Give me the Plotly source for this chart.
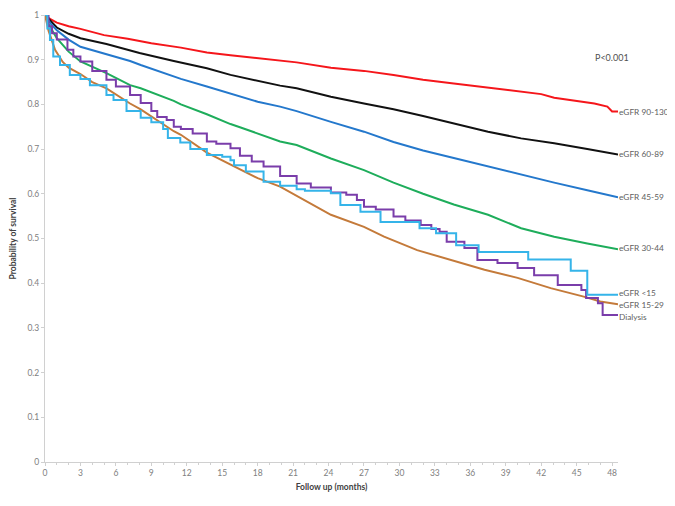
import plotly.graph_objects as go

# Kaplan-Meier survival curves
months_90_130 = [0, 0.5, 1, 2, 3, 5, 7, 9, 11.5, 13.7, 15.7, 18, 21.3, 24.2, 27, 29.5,
                 32, 34.6, 37.5, 40.3, 42, 43.1, 45, 46.5, 47.6, 48, 48.5]
surv_90_130 = [1.0, 0.99, 0.983, 0.975, 0.969, 0.955, 0.947, 0.937, 0.927, 0.916, 0.910,
               0.903, 0.894, 0.882, 0.875, 0.866, 0.855, 0.847, 0.837, 0.829, 0.823,
               0.815, 0.807, 0.802, 0.795, 0.784, 0.784]

months_60_89 = [0, 0.5, 1, 2, 3, 5.2, 8, 10.9, 13.7, 15.7, 18, 19.9, 21.3, 24.2, 27,
                29.5, 32, 34.6, 37.5, 40.3, 43.1, 45.9, 48.3, 48.5]
surv_60_89 = [1.0, 0.985, 0.972, 0.958, 0.948, 0.935, 0.915, 0.897, 0.881, 0.866, 0.853,
              0.842, 0.836, 0.817, 0.802, 0.789, 0.774, 0.757, 0.739, 0.724, 0.713,
              0.700, 0.688, 0.688]

months_45_59 = [0, 0.5, 1, 2, 3, 5.2, 7.2, 8.1, 10.9, 11.5, 13.7, 15.7, 18, 19.9, 21.3,
                24.2, 27, 29.5, 32, 34.6, 37.5, 40.3, 43.1, 45.9, 48.3, 48.5]
surv_45_59 = [1.0, 0.98, 0.966, 0.945, 0.929, 0.912, 0.897, 0.888, 0.862, 0.857, 0.840,
              0.825, 0.806, 0.795, 0.785, 0.761, 0.739, 0.716, 0.697, 0.680, 0.661,
              0.642, 0.625, 0.608, 0.592, 0.592]

months_30_44 = [0, 0.3, 0.6, 1, 2, 3, 5.2, 7.2, 8.1, 10.9, 11.5, 13.7, 15.7, 16.5, 19.9,
                21.3, 24.2, 27, 29.5, 32, 34.6, 37.5, 40.3, 43.1, 45.9, 48.3, 48.5]
surv_30_44 = [1.0, 0.98, 0.966, 0.948, 0.918, 0.896, 0.870, 0.843, 0.836, 0.808, 0.800,
              0.778, 0.756, 0.749, 0.717, 0.709, 0.679, 0.653, 0.625, 0.600, 0.576,
              0.553, 0.523, 0.504, 0.489, 0.476, 0.476]

months_lt15 = [0, 0.2, 0.42, 0.7, 1.27, 2.1, 3.0, 3.8, 5.2, 5.8, 6.9, 8.1, 9, 10, 10.4,
               11.45, 12.3, 13.7, 15.0, 15.7, 16, 17, 18.5, 19.9, 21.3, 22, 24.2, 25,
               26.7, 28.4, 31.7, 33.1, 34.8, 36.7, 40.9, 44.5, 45.9, 48.5]
surv_lt15 = [1.0, 0.97, 0.944, 0.907, 0.888, 0.866, 0.857, 0.843, 0.821, 0.81, 0.785,
             0.77, 0.76, 0.745, 0.725, 0.715, 0.700, 0.687, 0.683, 0.675, 0.664, 0.650,
             0.627, 0.618, 0.610, 0.607, 0.601, 0.575, 0.560, 0.537, 0.523, 0.512,
             0.485, 0.470, 0.453, 0.428, 0.374, 0.374]

months_15_29 = [0, 0.3, 0.85, 1.5, 2, 3, 4, 5.2, 7.2, 8.1, 10.9, 11.5, 13.7, 15.7, 16.5,
                18, 19.9, 21.9, 24.2, 27, 28.7, 31.5, 32.7, 34.4, 37.2, 40, 42.8, 45.6,
                47.0, 48.5]
surv_15_29 = [1.0, 0.965, 0.922, 0.895, 0.882, 0.868, 0.850, 0.836, 0.802, 0.789, 0.740,
              0.732, 0.692, 0.665, 0.655, 0.635, 0.616, 0.586, 0.553, 0.526, 0.504,
              0.474, 0.465, 0.452, 0.430, 0.412, 0.389, 0.370, 0.359, 0.353]

months_dialysis = [0, 0.3, 0.6, 1, 1.9, 2.4, 3, 4, 5.2, 6, 7.2, 8.1, 9, 9.5, 10.3, 10.9,
                   11.5, 12.5, 13.7, 14.5, 15.7, 16.5, 17.5, 18.5, 19.9, 21.3, 22.5,
                   24.2, 25.5, 26.4, 27, 28, 29.5, 30.5, 31.8, 32.7, 33.4, 34.0, 35.5,
                   36.6, 38.3, 40.0, 41.4, 43.4, 45.4, 45.8, 46.8, 47.2, 48.5]
surv_dialysis = [1.0, 0.975, 0.959, 0.945, 0.922, 0.907, 0.896, 0.875, 0.855, 0.84,
                 0.821, 0.803, 0.785, 0.772, 0.765, 0.750, 0.745, 0.735, 0.717, 0.712,
                 0.702, 0.685, 0.672, 0.661, 0.640, 0.623, 0.614, 0.603, 0.598, 0.586,
                 0.571, 0.565, 0.549, 0.540, 0.530, 0.521, 0.515, 0.493, 0.479, 0.452,
                 0.445, 0.434, 0.418, 0.396, 0.385, 0.367, 0.355, 0.329, 0.329]

series = [
    ("eGFR 90-130", months_90_130, surv_90_130, "#F5161B", "linear"),
    ("eGFR 60-89", months_60_89, surv_60_89, "#111111", "linear"),
    ("eGFR 45-59", months_45_59, surv_45_59, "#2478CC", "linear"),
    ("eGFR 30-44", months_30_44, surv_30_44, "#1EAD5B", "linear"),
    ("eGFR 15-29", months_15_29, surv_15_29, "#C47A3A", "linear"),
    ("Dialysis", months_dialysis, surv_dialysis, "#7A3DAA", "hv"),
    ("eGFR <15", months_lt15, surv_lt15, "#35B4E9", "hv"),
]

# end-of-line labels: (text, y position of label)
end_labels = [
    ("eGFR 90-130", 0.784),
    ("eGFR 60-89", 0.690),
    ("eGFR 45-59", 0.592),
    ("eGFR 30-44", 0.478),
    ("eGFR <15", 0.378),
    ("eGFR 15-29", 0.352),
    ("Dialysis", 0.325),
]

FONT = "Lato, 'Open Sans', sans-serif"

fig = go.Figure()
for name, x, y, color, shape in series:
    fig.add_trace(go.Scatter(
        x=x, y=y, mode="lines", name=name,
        line=dict(color=color, width=2, shape=shape),
        showlegend=False))

for text, yv in end_labels:
    fig.add_annotation(x=48.5, y=yv, text=text, showarrow=False,
                       xanchor="left", yanchor="middle", xshift=-1,
                       font=dict(size=8.3, color="#606060", family=FONT))

fig.add_annotation(x=48.0, y=0.904, text="P<0.001", showarrow=False,
                   xanchor="center", yanchor="middle",
                   font=dict(size=9, color="#505050", family=FONT))

fig.update_xaxes(
    range=[0, 48.5], tickvals=list(range(0, 49, 3)), automargin=False,
    showgrid=False, zeroline=False, showline=True, linecolor="#D0D0D0",
    ticks="outside", ticklen=3, tickcolor="#D0D0D0",
    minor=dict(dtick=1, ticks="outside", ticklen=2, tickcolor="#D0D0D0"),
    tickfont=dict(size=8.5, color="#808080", family=FONT),
    title=dict(text="<b>Follow up (months)</b>", standoff=6,
               font=dict(size=8.5, color="#404040", family=FONT)))
fig.update_yaxes(
    range=[0, 1], dtick=0.1, automargin=False,
    showgrid=False, zeroline=False, showline=True, linecolor="#D0D0D0",
    ticks="outside", ticklen=3, tickcolor="#D0D0D0",
    tickfont=dict(size=8.5, color="#808080", family=FONT),
    title=dict(text="<b>Probability of survival</b>", standoff=9,
               font=dict(size=8.5, color="#404040", family=FONT)))

# the page body keeps its default 8px margin, so the figure is made smaller
fig.update_layout(width=667, height=490,
                  margin=dict(l=37, r=57, t=7, b=36),
                  paper_bgcolor="white", plot_bgcolor="white")

fig.write_html("out.html")
